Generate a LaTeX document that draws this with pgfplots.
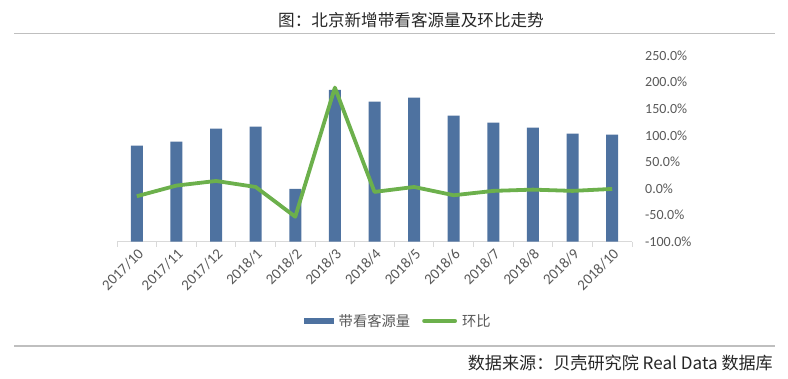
\documentclass[border=0pt]{standalone}
\usepackage{fontspec}
\setmainfont{Carlito}
\newfontfamily\cjk{Noto Sans CJK SC}
\usepackage{pgfplots}
\pgfplotsset{compat=1.18}
\definecolor{barblue}{RGB}{78,114,160}
\definecolor{lgreen}{RGB}{108,176,76}
\definecolor{tgray}{RGB}{89,89,89}
\definecolor{agray}{RGB}{217,217,217}
\definecolor{rgray}{RGB}{191,191,191}
\begin{document}
\begin{tikzpicture}
\path[use as bounding box] (0,0) rectangle (788bp,379bp);
\draw[rgray, line width=1.2bp] (14bp,345.7bp) -- (775bp,345.7bp);
\draw[rgray, line width=1.2bp] (14bp,33bp) -- (775bp,33bp);
\node[font=\cjk\fontsize{16.6bp}{18bp}\selectfont, text=black!85, inner sep=0pt] at (411bp,359bp) {图：北京新增带看客源量及环比走势};
\node[anchor=east, font=\cjk\fontsize{17.1bp}{19bp}\selectfont, text=black!85, inner sep=0pt] at (773bp,16bp) {数据来源：贝壳研究院 Real Data 数据库};

\begin{axis}[
  at={(117bp,137.3bp)}, anchor=south west, scale only axis,
  width=515bp, height=186bp,
  xmin=-0.5, xmax=12.5, ymin=0, ymax=186,
  axis x line*=bottom, axis y line=none,
  x axis line style={agray, line width=1bp, -},
  xtick={0,1,2,3,4,5,6,7,8,9,10,11,12},
  xticklabels={2017/10,2017/11,2017/12,2018/1,2018/2,2018/3,2018/4,2018/5,2018/6,2018/7,2018/8,2018/9,2018/10},
  major x tick style={draw=none},
  minor xtick={-0.5,0.5,1.5,2.5,3.5,4.5,5.5,6.5,7.5,8.5,9.5,10.5,11.5,12.5},
  minor x tick style={agray, line width=1bp},
  minor tick length=5bp, tick align=outside,
  xticklabel style={rotate=45, anchor=north east, font=\fontsize{15bp}{16bp}\selectfont, text=tgray, inner sep=1bp},
  ybar, bar width=12bp,
]
\addplot[fill=barblue, draw=none] coordinates {
(0,96) (1,100) (2,113) (3,115) (4,52.7) (5,151.7) (6,140) (7,144) (8,126) (9,119) (10,114) (11,108) (12,107)
};
\end{axis}

\begin{axis}[
  at={(117bp,137.3bp)}, anchor=south west, scale only axis,
  width=515bp, height=186bp,
  xmin=-0.5, xmax=12.5, ymin=-100, ymax=250,
  axis y line*=right, axis x line=none,
  y axis line style={draw=none},
  ytick={-100,-50,0,50,100,150,200,250},
  ytick style={draw=none},
  /pgf/number format/assume math mode=true,
  yticklabel={\pgfmathprintnumber[fixed,fixed zerofill,precision=1]{\tick}\%},
  yticklabel style={anchor=west, inner sep=0pt, xshift=13bp, font=\fontsize{14bp}{15bp}\selectfont, text=tgray},
  legend style={at={(0.5456,-0.426)}, anchor=center, draw=none, fill=none,
    legend columns=2, font=\cjk\fontsize{14.3bp}{15bp}\selectfont, text=tgray,
    /tikz/every odd column/.append style={column sep=4bp},
    /tikz/every even column/.append style={column sep=11bp},
    nodes={inner sep=1bp}},
]
\addlegendimage{legend image code/.code={\fill[barblue] (0bp,-2.75bp) rectangle (29bp,2.75bp);}}
\addlegendentry{带看客源量}
\addplot[lgreen, line width=3.8bp, line join=round, mark=none,
  legend image code/.code={\draw[lgreen, line width=3.8bp, line cap=round] (0bp,0bp) -- (31bp,0bp);}]
  coordinates {
(0,-14.4) (1,5.6) (2,14.3) (3,3) (4,-53) (5,190) (6,-6.3) (7,3) (8,-12.6) (9,-4.4) (10,-2) (11,-4.4) (12,-0.7)
};
\addlegendentry{环比}
\end{axis}
\end{tikzpicture}
\end{document}
